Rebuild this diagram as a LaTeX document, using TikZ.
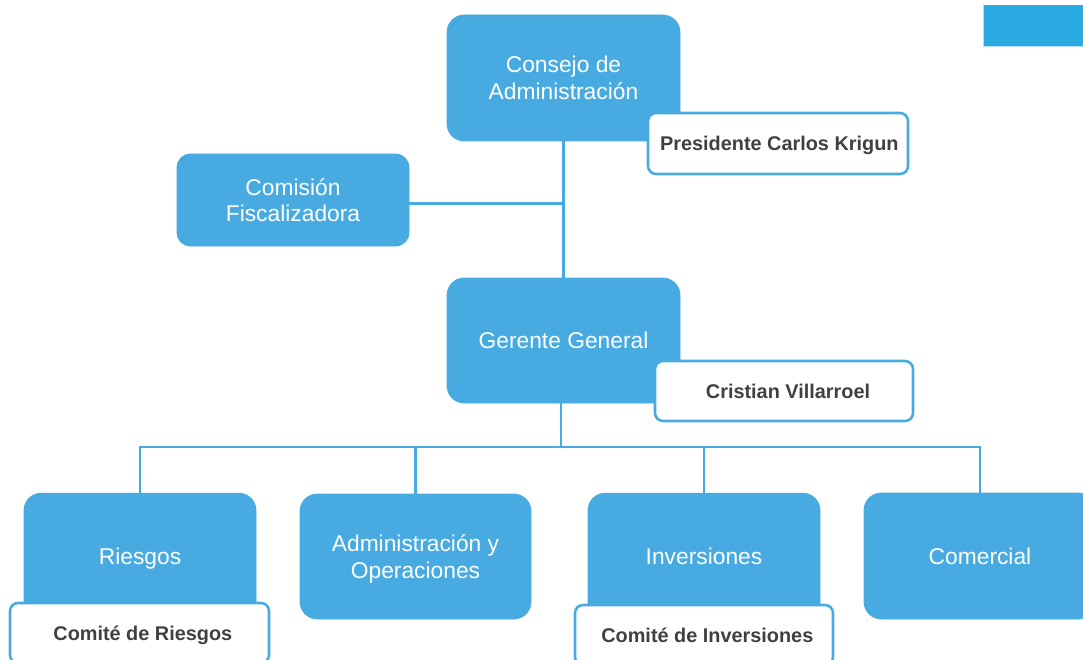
\documentclass[tikz,border=0pt]{standalone}
\usepackage{fontspec}
\setmainfont{Liberation Sans}
\definecolor{boxblue}{HTML}{47ABE2}
\definecolor{topblue}{HTML}{29ABE2}
\definecolor{txtgray}{HTML}{404040}
\begin{document}
\begin{tikzpicture}[x=0.75pt,y=-0.75pt,
  bluebox/.style={draw=boxblue,fill=boxblue,rounded corners=13pt,text=white,align=center,
    font=\fontsize{17.1}{19.9}\selectfont,inner sep=0pt,line width=0.6pt,text depth=-1pt},
  namebox/.style={draw=boxblue,fill=white,rounded corners=6pt,line width=1.9pt,
    text=txtgray,font=\fontsize{14.9}{17}\selectfont\bfseries,inner sep=0pt,text depth=-0.5pt},
  link/.style={draw=boxblue,line width=2.2pt}]
\useasboundingbox (0,0) rectangle (1083,660);
% top-right bar
\fill[topblue] (983,5) rectangle (1083,46);
\draw[boxblue!40,line width=0.6pt] (983,5) -- (983,46) -- (1083,46);
% blue boxes
\node[bluebox,minimum width=174.75pt,minimum height=94.5pt] (consejo) at (563.5,78) {Consejo de\\Administración};
\node[bluebox,minimum width=174pt,minimum height=69pt,rounded corners=10pt] (comision) at (293,200) {Comisión\\Fiscalizadora};
\node[bluebox,minimum width=174.75pt,minimum height=93.75pt] (gerente) at (563.5,340.5) {Gerente General};
\node[bluebox,minimum width=174pt,minimum height=95pt] (riesgos) at (140,556.5) {Riesgos};
\node[bluebox,minimum width=173.25pt,minimum height=93.75pt] (admin) at (415.5,556.5) {Administración y\\Operaciones};
\node[bluebox,minimum width=174pt,minimum height=95pt] (inversiones) at (704,556.5) {Inversiones};
\node[bluebox,minimum width=174pt,minimum height=94.5pt] (comercial) at (980,556) {Comercial};
% connectors
\coordinate (bus) at (561,447);
\draw[link] (consejo.south) -- (gerente.north);
\draw[link] ([yshift=-2.5pt]comision.east) -- ([yshift=-2.5pt]comision.east -| consejo.south);
\draw[link] (gerente.south -| bus) -- (bus);
\draw[link] (riesgos.north) |- (bus) -| (comercial.north);
\draw[link] (admin.north) -- (admin.north |- bus);
\draw[link] (inversiones.north) -- (inversiones.north |- bus);
% name boxes
\node[namebox,minimum width=195pt,minimum height=45.75pt] (presidente) at (778,143.5) {\hspace*{2pt}Presidente Carlos Krigun};
\node[namebox,minimum width=193.5pt,minimum height=45pt] (cristian) at (784,391) {\hspace*{6pt}Cristian Villarroel};
\node[namebox,minimum width=194.25pt,minimum height=45pt] (comriesgos) at (139.5,633) {\hspace*{5pt}Comité de Riesgos};
\node[namebox,minimum width=193.5pt,minimum height=45pt] (cominv) at (704,635) {\hspace*{5pt}Comité de Inversiones};
\end{tikzpicture}
\end{document}
